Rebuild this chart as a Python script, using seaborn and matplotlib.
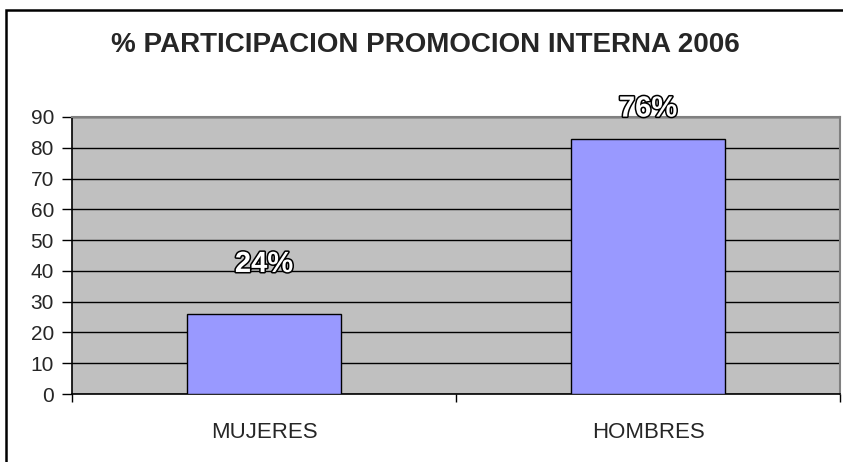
import matplotlib
matplotlib.use("Agg")
import matplotlib.pyplot as plt
import matplotlib.patheffects as pe
from matplotlib.patches import Rectangle
import seaborn as sns
import pandas as pd

# data
categories = ["MUJERES", "HOMBRES"]
values = [26, 83]
labels = ["24%", "76%"]
label_offsets = [50, 30]  # px above bar top
yticks = [0, 10, 20, 30, 40, 50, 60, 70, 80, 90]

df = pd.DataFrame({"cat": categories, "val": values})

sns.set_style("white")
plt.rcParams["font.family"] = ["Liberation Sans", "DejaVu Sans"]

fig = plt.figure(figsize=(8.43, 4.62), dpi=100)
ax = fig.add_axes([72 / 843, 68 / 462, 768 / 843, 277 / 462])
ax.set_facecolor("#C0C0C0")

sns.barplot(data=df, x="cat", y="val", color="#9999FF", saturation=1,
            width=0.4, edgecolor="black", linewidth=1, ax=ax, zorder=3)

ax.set_xlim(-0.5, 1.5)
ax.set_ylim(0, 90)
ax.set_yticks(yticks)
ax.set_axisbelow(True)
ax.yaxis.grid(True, color="black", lw=1)
ax.set_xlabel("")
ax.set_ylabel("")

for side in ["left", "bottom"]:
    ax.spines[side].set_color("black")
    ax.spines[side].set_linewidth(1.2)
for side in ["top", "right"]:
    ax.spines[side].set_color("#808080")
    ax.spines[side].set_linewidth(1.5)
    ax.spines[side].set_visible(True)

ax.tick_params(axis="y", left=True, length=7, width=1, color="black",
               labelsize=15, pad=6)
ax.tick_params(axis="x", which="major", length=0, labelsize=16, pad=20)
ax.set_xticks([-0.5, 0.5, 1.5], minor=True)
ax.tick_params(axis="x", which="minor", bottom=True, length=6, width=1,
               color="black")

for i, (v, lab, off) in enumerate(zip(values, labels, label_offsets)):
    t = ax.annotate(lab, xy=(i, v), xytext=(0, off * 0.72),
                    textcoords="offset points", ha="center", va="center",
                    fontsize=21, fontweight="bold", color="white",
                    family=["Liberation Sans Narrow", "Liberation Sans"])
    t.set_path_effects([pe.withStroke(linewidth=2.2, foreground="black")])

fig.text(0.505, 1 - 45 / 462, "% PARTICIPACION PROMOCION INTERNA 2006",
         ha="center", va="center", fontsize=20, fontweight="bold")

fig.patches.append(Rectangle((6 / 843, -0.1), 1.1, 1 - 10 / 462 + 0.1,
                             transform=fig.transFigure, fill=False,
                             edgecolor="black", lw=1.8, clip_on=False))

fig.savefig("out.png", dpi=100)
